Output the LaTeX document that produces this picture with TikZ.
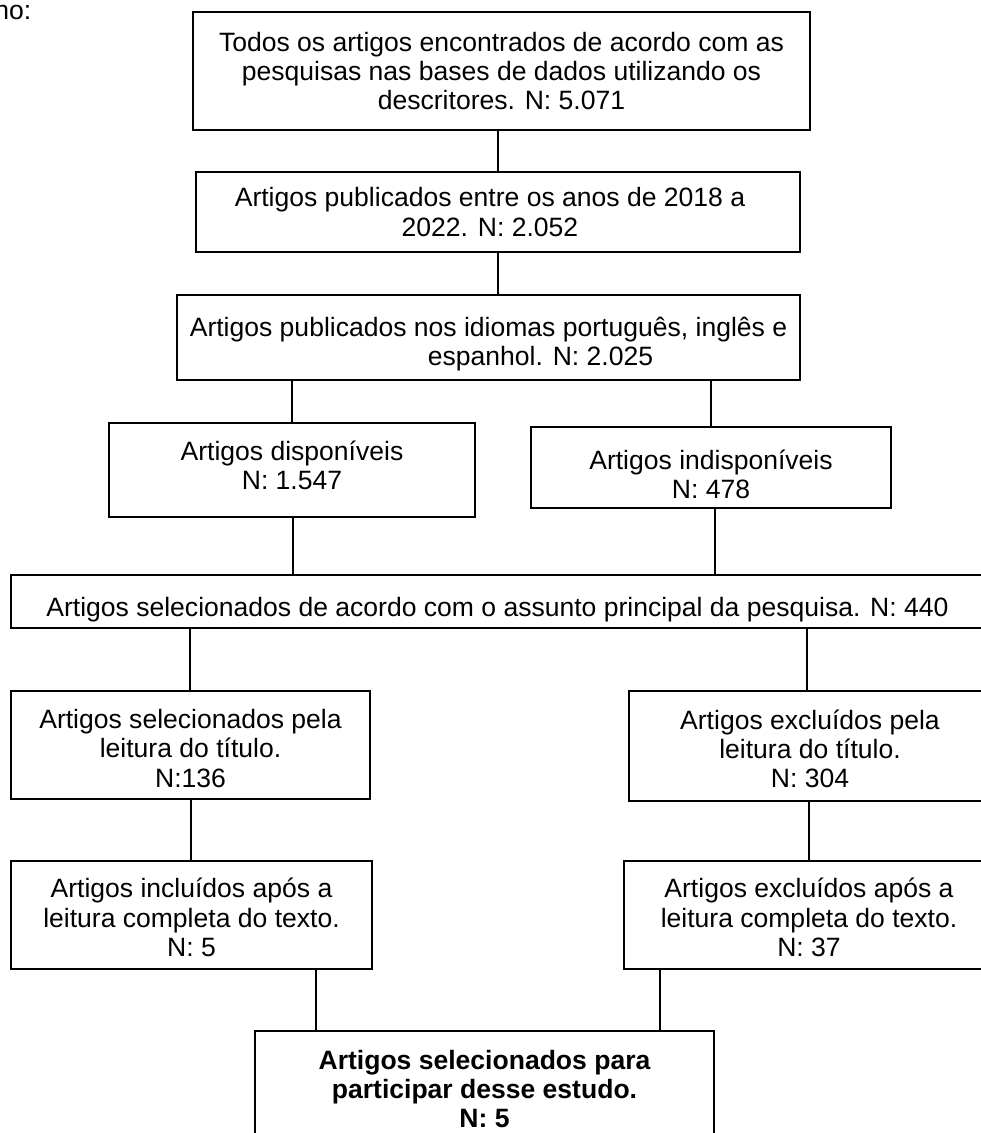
\documentclass[tikz,border=0pt]{standalone}
\usepackage{fontspec}
\setmainfont{Liberation Sans}
\newcommand\mybox[8][]{%
  \node[box, minimum width={(#5-#3)*0.75pt}, minimum height={(#6-#4)*0.75pt},
    label={[txt,#1,yshift=#7pt]center:{#8}}]
    (#2) at ({(#3+#5)/2},{(#4+#6)/2}) {};}
\begin{document}
\begin{tikzpicture}[x=0.75pt,y=-0.75pt,
  box/.style={draw=black, line width=1.1pt, inner sep=0pt, rectangle},
  txt/.style={inner sep=0pt, align=center, font=\fontsize{19.9pt}{22pt}\selectfont},
  conn/.style={draw=black, line width=1.1pt}]
\useasboundingbox (0,0) rectangle (981,1133);
\clip (0,0) rectangle (981,1133);
\node[txt, anchor=base west] (pre) at (-6,19) {no:};
\mybox{b1}{193}{12}{810}{130}{0}{Todos os artigos encontrados de acordo com as\\pesquisas nas bases de dados utilizando os\\descritores. N: 5.071}
\mybox{b2}{196}{172}{800}{252}{0}{Artigos publicados entre os anos de 2018 a\hspace*{12pt}\\2022. N: 2.052\hspace*{12pt}}
\mybox{b3}{177}{295}{800}{380}{-5}{Artigos publicados nos idiomas português, inglês e\\\hspace*{78pt}espanhol. N: 2.025}
\mybox{b4}{109}{423}{475}{517}{3.4}{Artigos disponíveis\\N: 1.547}
\mybox{b5}{531}{427}{891}{508}{-5.2}{Artigos indisponíveis\\N: 478}
\mybox{b6}{11}{575}{984}{628}{-6}{Artigos selecionados de acordo com o assunto principal da pesquisa. N: 440}
\mybox{b7}{11}{691}{370}{799}{-2.6}{Artigos selecionados pela\\leitura do título.\\N:136}
\mybox{b8}{629}{691}{991}{801}{-2.2}{Artigos excluídos pela\\leitura do título.\\N: 304}
\mybox{b9}{11}{861}{372}{969}{-1.9}{Artigos incluídos após a\\leitura completa do texto.\\N: 5}
\mybox{b10}{624}{861}{994}{969}{-1.9}{Artigos excluídos após a\\leitura completa do texto.\\N: 37}
\mybox[font=\fontsize{19.9pt}{22pt}\selectfont\bfseries]{b11}{255}{1031}{714}{1153}{2.2}{Artigos selecionados para\\participar desse estudo.\\N: 5}
\coordinate (c1) at (498,0);
\coordinate (c2) at (292,0);
\coordinate (c3) at (711,0);
\coordinate (c4) at (293,0);
\coordinate (c5) at (715,0);
\coordinate (c6) at (190,0);
\coordinate (c7) at (807,0);
\coordinate (c8) at (191,0);
\coordinate (c9) at (809,0);
\coordinate (c10) at (316,0);
\coordinate (c11) at (660,0);
\draw[conn] (b1.south -| c1) -- (b2.north -| c1);
\draw[conn] (b2.south -| c1) -- (b3.north -| c1);
\draw[conn] (b3.south -| c2) -- (b4.north -| c2);
\draw[conn] (b3.south -| c3) -- (b5.north -| c3);
\draw[conn] (b4.south -| c4) -- (b6.north -| c4);
\draw[conn] (b5.south -| c5) -- (b6.north -| c5);
\draw[conn] (b6.south -| c6) -- (b7.north -| c6);
\draw[conn] (b6.south -| c7) -- (b8.north -| c7);
\draw[conn] (b7.south -| c8) -- (b9.north -| c8);
\draw[conn] (b8.south -| c9) -- (b10.north -| c9);
\draw[conn] (b9.south -| c10) -- (b11.north -| c10);
\draw[conn] (b10.south -| c11) -- (b11.north -| c11);
\end{tikzpicture}
\end{document}
